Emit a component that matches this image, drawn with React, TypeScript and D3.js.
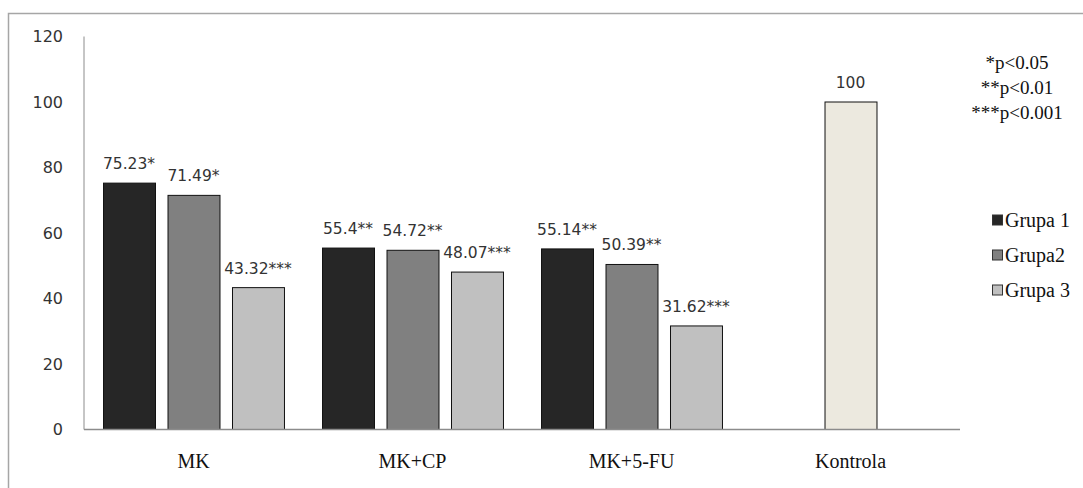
import React from "react";
import * as d3 from "d3";

const categories = ["MK", "MK+CP", "MK+5-FU", "Kontrola"];
const seriesNames = ["Grupa 1", "Grupa2", "Grupa 3"];
const grupa1: (number | null)[] = [75.23, 55.4, 55.14, null];
const grupa2: (number | null)[] = [71.49, 54.72, 50.39, 100];
const grupa3: (number | null)[] = [43.32, 48.07, 31.62, null];
const labels1 = ["75.23*", "55.4**", "55.14**", ""];
const labels2 = ["71.49*", "54.72**", "50.39**", "100"];
const labels3 = ["43.32***", "48.07***", "31.62***", ""];
const yTicks = [0, 20, 40, 60, 80, 100, 120];
const pNotes = ["*p<0.05", "**p<0.01", "***p<0.001"];

const seriesColors = ["#262626", "#808080", "#c0c0c0"];
const kontrolaColor = "#ece9df";

export default function App() {
  const W = 1083, H = 488;
  const x0 = d3.scaleBand<string>().domain(categories).range([84, 960]).padding(0);
  const x1 = d3
    .scaleBand<string>()
    .domain(seriesNames)
    .range([0, x0.bandwidth()])
    .paddingInner(0.194)
    .paddingOuter(0.295);
  const y = d3.scaleLinear().domain([0, 120]).range([429.5, 36.5]);

  const series = [
    { name: seriesNames[0], values: grupa1, labels: labels1 },
    { name: seriesNames[1], values: grupa2, labels: labels2 },
    { name: seriesNames[2], values: grupa3, labels: labels3 },
  ];

  const sans = "DejaVu Sans, sans-serif";
  const serif = "Liberation Serif, DejaVu Serif, serif";

  return (
    <svg width={W} height={H} style={{ position: "absolute", left: 0, top: 0, background: "#fff" }}>
      <rect x={8.5} y={13.5} width={1090} height={500} fill="#fff" stroke="#a6a6a6" strokeWidth={1.5} />
      {/* y axis */}
      <line x1={84} x2={84} y1={y(120)} y2={y(0)} stroke="#8c8c8c" strokeWidth={1} />
      {yTicks.map((t) => (
        <text key={t} x={63} y={y(t)} dy="0.36em" textAnchor="end" fontFamily={sans} fontSize={16} fill="#333">
          {t}
        </text>
      ))}
      {/* bars */}
      {series.map((s, si) =>
        categories.map((c, ci) => {
          const v = s.values[ci];
          if (v == null) return null;
          const bx = (x0(c) as number) + (x1(s.name) as number);
          const bw = x1.bandwidth();
          const fill = c === "Kontrola" ? kontrolaColor : seriesColors[si];
          return (
            <g key={s.name + c}>
              <rect x={bx + 0.5} y={y(v)} width={bw} height={y(0) - y(v)} fill={fill} stroke="#111" strokeWidth={1} />
              <text x={bx + bw / 2} y={y(v) - 14} textAnchor="middle" fontFamily={sans} fontSize={15.5} fill="#333">
                {s.labels[ci]}
              </text>
            </g>
          );
        })
      )}
      {/* baseline */}
      <line x1={84} x2={960} y1={y(0)} y2={y(0)} stroke="#8c8c8c" strokeWidth={1.5} />
      {categories.map((c) => (
        <text key={c} x={(x0(c) as number) + x0.bandwidth() / 2} y={468} textAnchor="middle" fontFamily={serif} fontSize={20} fill="#111">
          {c}
        </text>
      ))}
      {/* p-value notes */}
      {pNotes.map((p, i) => (
        <text key={p} x={1017} y={62 + i * 25} dy="0.35em" textAnchor="middle" fontFamily={serif} fontSize={19} fill="#111">
          {p}
        </text>
      ))}
      {/* legend */}
      {seriesNames.map((n, i) => (
        <g key={n} transform={`translate(992, ${220 + i * 35})`}>
          <rect x={0.5} y={-5} width={10} height={10} fill={seriesColors[i]} stroke="#333" strokeWidth={1} />
          <text x={13} y={0} dy="0.35em" fontFamily={serif} fontSize={20} fill="#111">
            {n}
          </text>
        </g>
      ))}
    </svg>
  );
}
